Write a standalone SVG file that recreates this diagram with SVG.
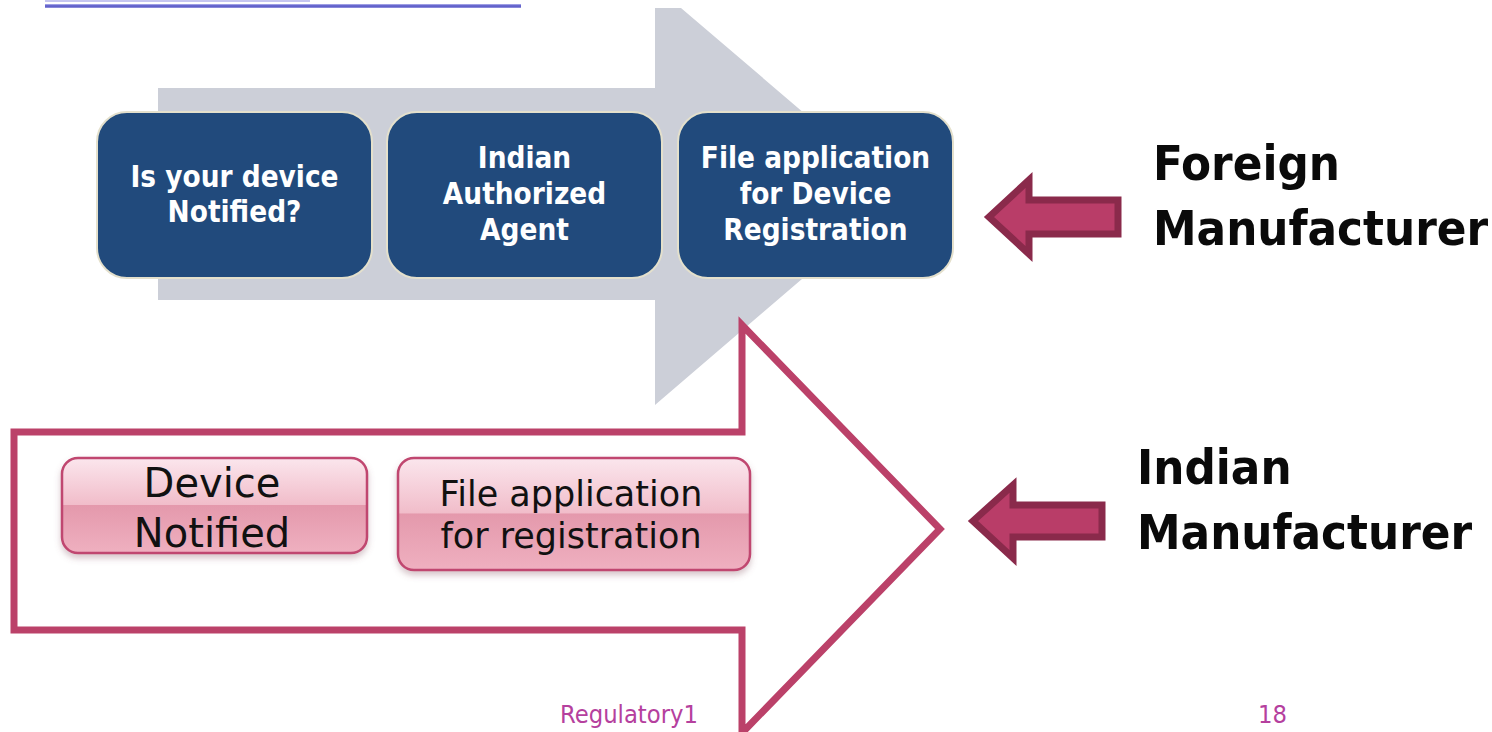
<svg xmlns="http://www.w3.org/2000/svg" width="1492" height="732" viewBox="0 0 1492 732">
  <defs>
    <linearGradient id="gloss" x1="0" y1="0" x2="0" y2="1">
      <stop offset="0" stop-color="#FBE6ED"/>
      <stop offset="0.49" stop-color="#F1BDCA"/>
      <stop offset="0.5" stop-color="#E499AC"/>
      <stop offset="1" stop-color="#EFB0C0"/>
    </linearGradient>
    <linearGradient id="rule" x1="0" y1="0" x2="0" y2="1">
      <stop offset="0" stop-color="#B8B8EE"/>
      <stop offset="0.5" stop-color="#4E4EC4"/>
      <stop offset="1" stop-color="#9C9CE0"/>
    </linearGradient>
    <filter id="shadow" x="-10%" y="-10%" width="120%" height="140%">
      <feDropShadow dx="0" dy="4" stdDeviation="3" flood-color="#8A5A68" flood-opacity="0.35"/>
    </filter>
    <style>
      .blue { fill: #214A7C; stroke: #E4E0CC; stroke-width: 2; }
      .blue-text { font-family: "DejaVu Sans Condensed", "DejaVu Sans", sans-serif; font-weight: 700; font-size: 29.4px; fill: #FFFFFF; text-anchor: middle; }
      .pink { fill: url(#gloss); stroke: #C0466F; stroke-width: 2.5; filter: url(#shadow); }
      .pink-text { font-family: "DejaVu Sans", sans-serif; fill: #111111; text-anchor: middle; }
      .side-label { font-family: "DejaVu Sans Condensed", "DejaVu Sans", sans-serif; font-weight: 700; font-size: 48.7px; fill: #0A0A0A; }
      .pointer { fill: #B93D68; stroke: #8A2A4B; stroke-width: 7; stroke-linejoin: miter; }
      .footer { font-family: "DejaVu Sans Condensed", "DejaVu Sans", sans-serif; font-size: 25.3px; fill: #B5409E; }
    </style>
  </defs>

  <rect width="1492" height="732" fill="#FFFFFF"/>

  <!-- header rule -->
  <rect x="45" y="0" width="265" height="2" fill="#C6C6F0"/>
  <rect x="45" y="4" width="476" height="4" fill="url(#rule)"/>

  <g id="connectors">
    <!-- wide grey process arrow behind the upper steps -->
    <polygon points="158,88 655,88 655,8 681,8 900,195 655,405 655,300 158,300" fill="#CCCFD8"/>
    <!-- outlined magenta process arrow behind the lower steps -->
    <polygon points="14,432 742,432 742,325 940,529 742,733 742,630 14,630" fill="#FFFFFF" stroke="#BB4169" stroke-width="7" stroke-linejoin="miter"/>
    <!-- pointers toward each manufacturer route -->
    <polygon class="pointer" points="989,217 1029,180 1029,200 1118,200 1118,234 1029,234 1029,254" />
    <polygon class="pointer" points="973,521 1013,485 1013,505 1102,505 1102,537 1013,537 1013,558" />
  </g>

  <g id="node-notified-question">
    <rect class="blue" x="97" y="112" width="275" height="166" rx="30"/>
    <text class="blue-text" x="234.5" y="187">Is your device</text>
    <text class="blue-text" x="234.5" y="222">Notified?</text>
  </g>

  <g id="node-authorized-agent">
    <rect class="blue" x="387" y="112" width="275" height="166" rx="30"/>
    <text class="blue-text" x="524.5" y="168">Indian</text>
    <text class="blue-text" x="524.5" y="204">Authorized</text>
    <text class="blue-text" x="524.5" y="240">Agent</text>
  </g>

  <g id="node-device-registration">
    <rect class="blue" x="678" y="112" width="275" height="166" rx="30"/>
    <text class="blue-text" x="815.5" y="168">File application</text>
    <text class="blue-text" x="815.5" y="204">for Device</text>
    <text class="blue-text" x="815.5" y="240">Registration</text>
  </g>

  <g id="node-device-notified">
    <rect class="pink" x="62" y="458" width="305" height="95" rx="16"/>
    <text class="pink-text" x="212" y="497" font-size="40">Device</text>
    <text class="pink-text" x="212" y="547" font-size="40">Notified</text>
  </g>

  <g id="node-file-registration">
    <rect class="pink" x="398" y="458" width="352" height="112" rx="16"/>
    <text class="pink-text" x="571" y="506" font-size="35">File application</text>
    <text class="pink-text" x="571" y="548" font-size="35">for registration</text>
  </g>

  <g id="label-foreign">
    <text class="side-label" x="1153" y="180">Foreign</text>
    <text class="side-label" x="1153" y="245">Manufacturer</text>
  </g>

  <g id="label-indian">
    <text class="side-label" x="1137" y="484">Indian</text>
    <text class="side-label" x="1137" y="549">Manufacturer</text>
  </g>

  <g id="footer">
    <text class="footer" x="560" y="723">Regulatory1</text>
    <text class="footer" x="1258" y="723">18</text>
  </g>
</svg>
